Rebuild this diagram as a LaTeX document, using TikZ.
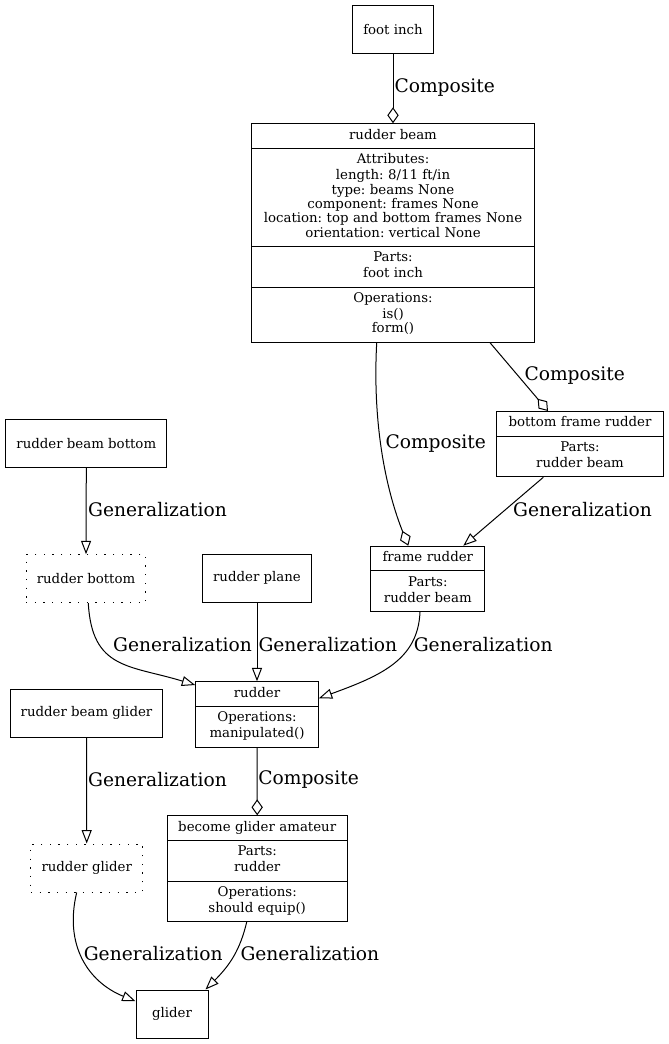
\documentclass[tikz,border=0pt]{standalone}
\usepackage{fontspec}
\setmainfont{DejaVu Serif}
\usepackage{tikz}
\usetikzlibrary{arrows.meta,shapes.multipart,calc}
\frenchspacing
\newcommand{\nodefont}{\fontsize{10}{10.8}\selectfont}
\newcommand{\edgefont}{\fontsize{14}{16}\selectfont}
\tikzstyle{box} = [rectangle, draw, font=\nodefont, inner xsep=8pt,
    minimum width=54pt, minimum height=36pt]
\tikzstyle{dotbox} = [box, dash pattern=on 1pt off 5.5pt]
\tikzstyle{record} = [rectangle split, draw, font=\nodefont, align=center,
    inner xsep=4pt, inner ysep=3.5pt, anchor=north,
    execute at begin node=\strut, execute at end node=\strut]
\tikzstyle{lbl} = [font=\edgefont, inner sep=0pt, anchor=west]
\tikzstyle{gen} = [-{Triangle[open,length=10pt,width=7.5pt]}]
\tikzstyle{comp} = [-{Diamond[open,length=12pt,width=8.5pt]}]

\begin{document}
\begin{tikzpicture}[x=0.75pt, y=-0.75pt, line width=0.75pt]
  \useasboundingbox (0,0) rectangle (668,1044);
  % Place nodes
  \node [box] (footinch) at (393,29.5) {foot inch};
  \node [record, rectangle split parts=4, text width=203.7pt] (beam) at (393,123.3)
  {rudder beam%
   \nodepart{two}Attributes:\\length: 8/11 ft/in\\type: beams None\\
   component: frames None\\location: top and bottom frames None\\
   orientation: vertical None%
   \nodepart{three}Parts:\\foot inch%
   \nodepart{four}Operations:\\is()\\form()};
  \node [record, rectangle split parts=2, text width=117pt] (bottomframe) at (580,411)
  {bottom frame rudder\nodepart{two}Parts:\\rudder beam};
  \node [record, rectangle split parts=2, text width=77.7pt] (frame) at (427.8,545.7)
  {frame rudder\nodepart{two}Parts:\\rudder beam};
  \node [box] (beambottom) at (86.3,443.7) {rudder beam bottom};
  \node [dotbox] (bottom) at (86,578.7) {rudder bottom};
  \node [box] (plane) at (257,578.3) {rudder plane};
  \node [record, rectangle split parts=2, text width=84pt] (rudder) at (257,681.3)
  {rudder\nodepart{two}Operations:\\manipulated()};
  \node [box] (beamglider) at (86.5,713.3) {rudder beam glider};
  \node [dotbox] (ruddergl) at (86.7,868) {rudder glider};
  \node [record, rectangle split parts=3, text width=127.2pt] (amateur) at (257.2,815.3)
  {become glider amateur\nodepart{two}Parts:\\rudder%
   \nodepart{three}Operations:\\should equip()};
  \node [box] (glider) at (172,1014) {glider};
  % Draw edges
  \draw [comp] (footinch.south) -- (beam.north)
    node [lbl] at (394,88) {Composite};
  \draw [comp] ($(beam.south)+(-16.3,0)$) .. controls (372,430) and (388,495) ..
    ($(frame.north)+(-19.5,0)$) node [lbl] at (385,443.3) {Composite};
  \draw [comp] ($(beam.south)+(97,0)$) -- ($(bottomframe.north)+(-32,0)$)
    node [lbl] at (524,376) {Composite};
  \draw [gen] ($(bottomframe.south)+(-36.7,0)$) -- ($(frame.north)+(35.5,0)$)
    node [lbl] at (512.7,510) {Generalization};
  \draw [gen] (beambottom.south) -- (bottom.north)
    node [lbl] at (87.7,510) {Generalization};
  \draw [gen] ($(bottom.south)+(2.3,0)$) .. controls (92,670) and (130,665) ..
    ($(rudder.north west)+(0,3.7)$) node [lbl] at (112.7,645) {Generalization};
  \draw [gen] (plane.south) -- (rudder.north)
    node [lbl] at (258,645) {Generalization};
  \draw [gen] ($(frame.south)+(-7.8,0)$) .. controls (418,660) and (380,676) ..
    ($(rudder.north east)+(0,17)$) node [lbl] at (413.3,645) {Generalization};
  \draw [gen] (beamglider.south) -- (ruddergl.north)
    node [lbl] at (87.7,780) {Generalization};
  \draw [comp] (rudder.south) -- (amateur.north)
    node [lbl] at (257.8,780) {Composite};
  \draw [gen] ($(ruddergl.south)+(-10,0)$) .. controls (64,945) and (88,982) ..
    ($(glider.north west)+(0,11.7)$) node [lbl] at (83.3,953.3) {Generalization};
  \draw [gen] ($(amateur.south)+(-10.5,0)$) .. controls (240,950) and (230,965) ..
    ($(glider.north east)+(-3,0)$) node [lbl] at (240,953.3) {Generalization};
\end{tikzpicture}
\end{document}
